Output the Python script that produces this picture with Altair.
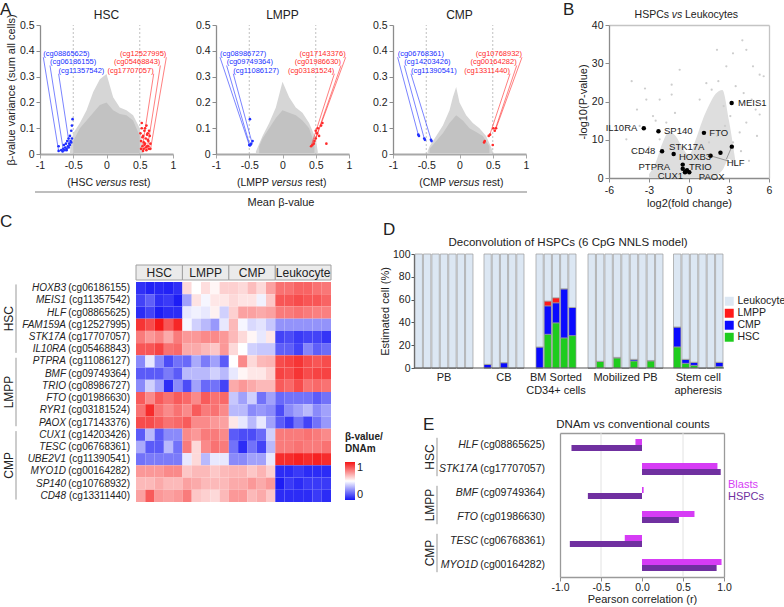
import altair as alt
import pandas as pd

W, H = 784, 607
FONT = "Liberation Sans"
TXT = "#222222"
AX = "#8c8c8c"
BLUE = "#2030ff"
RED = "#ff2a2a"
CLOUD_OUT = "#d6d6d6"
CLOUD_IN = "#c2c2c2"

# ============ Panel A data ============
HSC_OUT_X = [-0.55, -0.5, -0.4, -0.3, -0.2, -0.1, 0.0, 0.1, 0.2, 0.3, 0.4, 0.5, 0.55]
HSC_OUT_TOP = [0.01, 0.08, 0.12, 0.17, 0.24, 0.29, 0.31, 0.22, 0.18, 0.17, 0.15, 0.10, 0.01]
HSC_IN_X = [-0.5, -0.4, -0.3, -0.2, -0.1, 0.0, 0.1, 0.2, 0.3, 0.4, 0.5]
HSC_IN_TOP = [0.05, 0.10, 0.13, 0.16, 0.19, 0.20, 0.17, 0.155, 0.15, 0.13, 0.07]
HSC_BLUE_X = [-0.72, -0.72, -0.68, -0.66, -0.65, -0.64, -0.63, -0.62, -0.61, -0.60, -0.59, -0.58,
              -0.57, -0.56, -0.55, -0.54, -0.53, -0.52, -0.51, -0.60, -0.57, -0.55, -0.53, -0.52]
HSC_BLUE_Y = [0.012, 0.03, 0.015, 0.01, 0.02, 0.035, 0.015, 0.025, 0.04, 0.02, 0.05, 0.03,
              0.06, 0.04, 0.07, 0.05, 0.09, 0.06, 0.135, 0.015, 0.025, 0.035, 0.045, 0.11]
HSC_RED_X = [0.51, 0.52, 0.53, 0.54, 0.55, 0.56, 0.57, 0.58, 0.59, 0.60, 0.61, 0.62, 0.63, 0.64, 0.65,
             0.66, 0.52, 0.54, 0.56, 0.58, 0.60, 0.62, 0.64, 0.66, 0.53, 0.57, 0.61, 0.55, 0.59, 0.63]
HSC_RED_Y = [0.08, 0.05, 0.10, 0.03, 0.07, 0.02, 0.09, 0.04, 0.06, 0.11, 0.03, 0.08, 0.05, 0.02, 0.07,
             0.04, 0.02, 0.065, 0.045, 0.10, 0.015, 0.055, 0.09, 0.02, 0.12, 0.035, 0.075, 0.012, 0.025, 0.03]
HSC_BLUE_LAB = ["(cg08865625)", "(cg06186155)", "(cg11357542)"]
HSC_BLUE_LX = [-0.95, -0.85, -0.72]
HSC_BLUE_PX = [-0.72, -0.65, -0.55]
HSC_BLUE_PY = [0.012, 0.016, 0.022]
HSC_RED_LAB = ["(cg12527995)", "(cg05468843)", "(cg17707057)"]
HSC_RED_LX = [0.90, 0.81, 0.71]
HSC_RED_PX = [0.66, 0.61, 0.54]
HSC_RED_PY = [0.016, 0.016, 0.028]

LMPP_OUT_X = [-0.4, -0.35, -0.3, -0.2, -0.1, 0.0, 0.1, 0.2, 0.3, 0.4, 0.5, 0.53]
LMPP_OUT_TOP = [0.01, 0.04, 0.07, 0.12, 0.18, 0.28, 0.22, 0.18, 0.16, 0.12, 0.06, 0.01]
LMPP_IN_X = [-0.35, -0.3, -0.2, -0.1, 0.0, 0.1, 0.2, 0.3, 0.4, 0.48]
LMPP_IN_TOP = [0.03, 0.06, 0.10, 0.14, 0.17, 0.16, 0.15, 0.13, 0.10, 0.04]
LMPP_BLUE_X = [-0.50, -0.49, -0.48, -0.47, -0.45, -0.49]
LMPP_BLUE_Y = [0.035, 0.033, 0.036, 0.04, 0.05, 0.135]
LMPP_RED_X = [0.43, 0.45, 0.47, 0.48, 0.50, 0.50, 0.52, 0.53, 0.55, 0.58, 0.60, 0.66]
LMPP_RED_Y = [0.03, 0.035, 0.04, 0.05, 0.06, 0.09, 0.08, 0.10, 0.07, 0.11, 0.12, 0.04]
LMPP_BLUE_LAB = ["(cg08986727)", "(cg09749364)", "(cg11086127)"]
LMPP_BLUE_LX = [-0.94, -0.84, -0.74]
LMPP_BLUE_PX = [-0.50, -0.49, -0.46]
LMPP_BLUE_PY = [0.035, 0.033, 0.045]
LMPP_RED_LAB = ["(cg17143376)", "(cg01986630)", "(cg03181524)"]
LMPP_RED_LX = [0.95, 0.88, 0.78]
LMPP_RED_PX = [0.50, 0.47, 0.43]
LMPP_RED_PY = [0.06, 0.04, 0.03]

CMP_OUT_X = [-0.48, -0.45, -0.35, -0.25, -0.15, -0.1, -0.05, 0.0, 0.1, 0.2, 0.3, 0.4, 0.47, 0.5]
CMP_OUT_TOP = [0.01, 0.03, 0.07, 0.11, 0.17, 0.22, 0.26, 0.20, 0.15, 0.12, 0.10, 0.07, 0.03, 0.01]
CMP_IN_X = [-0.45, -0.35, -0.25, -0.15, -0.05, 0.05, 0.15, 0.25, 0.35, 0.45]
CMP_IN_TOP = [0.02, 0.05, 0.08, 0.12, 0.15, 0.13, 0.10, 0.085, 0.07, 0.03]
CMP_BLUE_X = [-0.62, -0.61, -0.53, -0.52, -0.43, -0.42]
CMP_BLUE_Y = [0.075, 0.07, 0.06, 0.055, 0.055, 0.05]
CMP_RED_X = [0.37, 0.38, 0.44, 0.46, 0.50, 0.53, 0.55, 0.51]
CMP_RED_Y = [0.045, 0.05, 0.07, 0.075, 0.035, 0.09, 0.10, 0.10]
CMP_BLUE_LAB = ["(cg06768361)", "(cg14203426)", "(cg11390541)"]
CMP_BLUE_LX = [-0.93, -0.83, -0.73]
CMP_BLUE_PX = [-0.62, -0.53, -0.42]
CMP_BLUE_PY = [0.075, 0.06, 0.05]
CMP_RED_LAB = ["(cg10768932)", "(cg00164282)", "(cg13311440)"]
CMP_RED_LX = [0.94, 0.86, 0.76]
CMP_RED_PX = [0.55, 0.53, 0.45]
CMP_RED_PY = [0.10, 0.09, 0.07]

LAB_TEXT_Y = [0.386, 0.355, 0.323]
LAB_LINE_Y = [0.375, 0.343, 0.311]

# ============ Panel B data ============
B_AREA_X = [-3.0, -2.5, -2.0, -1.5, -1.0, -0.5, 0.0, 0.5, 1.0, 1.5, 2.0, 2.5, 3.0, 3.5]
B_AREA_TOP = [1, 4, 9, 12, 11, 8, 6, 10, 15, 19, 22, 23, 15, 4]
B_AREA_BOT = [0, 0, 0, 0, 0, 0, 0, 0, 0, 0, 0.5, 2, 5, 3]
B_HALO_X = [-4.3, -3.3, -3.2, -3.9, -2.2, -1.3, -1.3, -0.7, -2.7, -3.7, -4.7, -4.2, -2.2, -1.7, -1.05,
            2.2, 2.8, 3.3, 4.0, 4.3, 4.8, 5.3, 5.6, 3.5, 4.1, 4.7, 5.0, 5.3, 4.3, 3.8, 5.1, 3.3,
            2.1, 1.3, 1.7, 0.8, 2.6, 3.1, 2.7, 2.1, 1.5, -3.0, -2.5, 3.9, 4.5]
B_HALO_Y = [25.3, 23.4, 20.5, 17.9, 20.5, 21.8, 24.4, 28.3, 16.2, 13.6, 10.1, 6.7, 10.1, 14.5, 17.0,
            25.3, 29.2, 32.6, 36.0, 33.5, 29.2, 27.0, 26.6, 24.0, 22.2, 20.5, 17.9, 16.6, 14.5, 11.9, 11.0, 9.3,
            33.5, 24.8, 23.1, 20.5, 18.8, 16.2, 13.6, 11.0, 9.3, 8.0, 15.0, 7.0, 4.5]
B_PT_X = [3.2, -3.39, -2.29, 1.12, -2.02, -1.15, 1.62, 2.36, 3.21, -0.47, -0.47, -0.27, -0.15, 0.02, -0.3]
B_PT_Y = [19.6, 13.0, 12.2, 11.8, 7.0, 6.3, 5.8, 6.6, 8.2, 3.5, 2.4, 1.7, 2.0, 1.5, 1.5]
B_LAB = ["MEIS1", "IL10RA", "SP140", "FTO", "CD48", "STK17A", "HOXB3", "HLF", "PTPRA", "TRIO", "CUX1", "PAOX"]
B_LAB_X = [3.45, -3.65, -2.1, 1.3, -2.3, -0.17, 0.45, 3.5, -2.6, 0.85, -1.4, 1.7]
B_LAB_Y = [19.6, 13.0, 12.2, 11.8, 7.0, 8.2, 5.5, 3.9, 2.9, 2.9, 0.45, 0.35]
B_LAB_SIDE = ["left", "right", "left", "left", "right", "center", "center", "center", "center", "center", "center", "center"]
B_LEAD_X1 = [1.62, 3.21]
B_LEAD_Y1 = [5.8, 8.2]
B_LEAD_X2 = [3.0, 2.8]
B_LEAD_Y2 = [4.4, 4.9]

# ============ Panel C data ============
C_GROUPS = ["HSC", "LMPP", "CMP", "Leukocyte"]
C_GROUP_N = [5, 5, 5, 6]
C_GENES = ["HOXB3", "MEIS1", "HLF", "FAM159A", "STK17A", "IL10RA", "PTPRA", "BMF", "TRIO",
           "FTO", "RYR1", "PAOX", "CUX1", "TESC", "UBE2V1", "MYO1D", "SP140", "CD48"]
C_CPGS = ["cg06186155", "cg11357542", "cg08865625", "cg12527995", "cg17707057", "cg05468843",
          "cg11086127", "cg09749364", "cg08986727", "cg01986630", "cg03181524", "cg17143376",
          "cg14203426", "cg06768361", "cg11390541", "cg00164282", "cg10768932", "cg13311440"]
C_VALUES = [
    [0.06, 0.03, 0.04, 0.03, 0.06, 0.58, 0.50, 0.57, 0.52, 0.60, 0.60, 0.58, 0.64, 0.58, 0.70, 0.80, 0.80, 0.83, 0.83, 0.80, 0.79],
    [0.10, 0.16, 0.06, 0.08, 0.02, 0.30, 0.56, 0.48, 0.55, 0.55, 0.58, 0.56, 0.56, 0.47, 0.62, 0.86, 0.86, 0.88, 0.86, 0.86, 0.83],
    [0.05, 0.10, 0.02, 0.05, 0.05, 0.45, 0.47, 0.45, 0.53, 0.40, 0.60, 0.70, 0.70, 0.68, 0.70, 0.78, 0.78, 0.80, 0.78, 0.77, 0.77],
    [0.93, 0.88, 0.99, 0.86, 0.96, 0.48, 0.40, 0.35, 0.28, 0.45, 0.65, 0.48, 0.42, 0.44, 0.38, 0.27, 0.27, 0.27, 0.27, 0.27, 0.27],
    [0.78, 0.72, 0.76, 0.68, 0.78, 0.72, 0.72, 0.75, 0.75, 0.72, 0.65, 0.58, 0.52, 0.45, 0.55, 0.10, 0.12, 0.08, 0.10, 0.10, 0.07],
    [0.86, 0.86, 0.90, 0.80, 0.82, 0.68, 0.68, 0.65, 0.62, 0.72, 0.58, 0.50, 0.40, 0.38, 0.38, 0.16, 0.16, 0.10, 0.24, 0.16, 0.19],
    [0.25, 0.45, 0.25, 0.12, 0.20, 0.18, 0.32, 0.22, 0.30, 0.15, 0.50, 0.75, 0.58, 0.65, 0.66, 0.88, 0.90, 0.93, 0.88, 0.86, 0.88],
    [0.15, 0.15, 0.15, 0.22, 0.15, 0.35, 0.35, 0.35, 0.40, 0.35, 0.45, 0.52, 0.55, 0.55, 0.60, 0.90, 0.88, 0.93, 0.88, 0.90, 0.90],
    [0.25, 0.40, 0.30, 0.05, 0.25, 0.12, 0.30, 0.18, 0.20, 0.10, 0.68, 0.72, 0.68, 0.65, 0.65, 0.85, 0.82, 0.88, 0.80, 0.82, 0.80],
    [0.85, 0.75, 0.85, 0.80, 0.85, 0.82, 0.75, 0.85, 0.80, 0.82, 0.38, 0.30, 0.40, 0.20, 0.30, 0.18, 0.20, 0.20, 0.20, 0.15, 0.20],
    [0.80, 0.95, 0.80, 0.75, 0.80, 0.75, 0.85, 0.78, 0.80, 0.75, 0.35, 0.35, 0.25, 0.28, 0.25, 0.12, 0.25, 0.30, 0.35, 0.25, 0.30],
    [0.88, 0.88, 0.85, 0.80, 0.82, 0.85, 0.75, 0.75, 0.72, 0.70, 0.55, 0.45, 0.35, 0.45, 0.30, 0.15, 0.08, 0.20, 0.10, 0.20, 0.28],
    [0.15, 0.35, 0.15, 0.25, 0.25, 0.75, 0.72, 0.78, 0.78, 0.75, 0.15, 0.12, 0.12, 0.18, 0.40, 0.78, 0.78, 0.78, 0.80, 0.78, 0.75],
    [0.32, 0.15, 0.15, 0.35, 0.20, 0.78, 0.58, 0.75, 0.80, 0.78, 0.20, 0.05, 0.20, 0.10, 0.35, 0.78, 0.78, 0.80, 0.78, 0.78, 0.80],
    [0.20, 0.22, 0.22, 0.22, 0.22, 0.45, 0.58, 0.35, 0.45, 0.45, 0.25, 0.25, 0.30, 0.30, 0.45, 0.95, 0.95, 0.97, 0.95, 0.97, 0.95],
    [0.72, 0.72, 0.72, 0.75, 0.75, 0.62, 0.65, 0.65, 0.62, 0.65, 0.66, 0.66, 0.62, 0.66, 0.60, 0.05, 0.05, 0.08, 0.05, 0.05, 0.05],
    [0.65, 0.65, 0.68, 0.65, 0.65, 0.70, 0.68, 0.65, 0.65, 0.65, 0.68, 0.68, 0.72, 0.68, 0.72, 0.02, 0.08, 0.05, 0.08, 0.08, 0.08],
    [0.70, 0.85, 0.72, 0.70, 0.72, 0.78, 0.62, 0.60, 0.58, 0.65, 0.72, 0.72, 0.65, 0.68, 0.62, 0.05, 0.05, 0.05, 0.05, 0.08, 0.05],
]
C_ROW_GROUPS = ["HSC", "LMPP", "CMP"]

# ============ Panel D data ============
D_GROUPS = ["PB", "CB", "BM Sorted|CD34+ cells", "Mobilized PB", "Stem cell|apheresis"]
D_COUNTS = [7, 5, 5, 9, 6]
D_HSC = [0, 0, 0, 0, 0, 0, 0,
         0, 0, 0, 0, 0,
         0, 29.6, 39.6, 26.4, 28.4,
         0, 5.9, 0, 8.8, 0, 6.2, 0, 6.2, 0,
         18.5, 4.1, 2.3, 0, 0, 1.2]
D_CMP = [0, 0, 0, 0, 0, 0, 0,
         3.2, 0, 4.7, 0, 0,
         18.5, 24.9, 17.6, 43.1, 24.7,
         0, 0, 0, 0.5, 0, 1.4, 0, 0.4, 0,
         17.5, 3.5, 2.7, 0, 0, 3.8]
D_LMPP = [0, 0, 0, 0, 0, 0, 0,
          0, 0, 0, 0, 0,
          0, 4.2, 4.4, 0, 0,
          0, 0, 0, 0, 0, 0, 0, 0, 0,
          0, 0, 0, 0, 0, 0]
D_TYPES = ["Leukocyte", "LMPP", "CMP", "HSC"]

# ============ Panel E data ============
E_GENES = ["HLF", "STK17A", "BMF", "FTO", "TESC", "MYO1D"]
E_CPGS = ["cg08865625", "cg17707057", "cg09749364", "cg01986630", "cg06768361", "cg00164282"]
E_BLASTS = [-0.08, 0.92, 0.02, 0.64, -0.21, 0.97]
E_HSPCS = [-0.86, 0.96, -0.66, 0.45, -0.88, 0.91]
E_ROW_GROUPS = ["HSC", "LMPP", "CMP"]


# ---------------- helpers ----------------
def vtext(txt, x, y, **kw):
    return alt.Chart(pd.DataFrame({"t": [txt]})).mark_text(**kw).encode(
        text="t:N", x=alt.value(x), y=alt.value(y))


def qscale(dom, rng, **kw):
    return alt.Scale(domain=dom, range=rng, nice=False, zero=False, **kw)


layers = []

# ---------------- Panel A ----------------
def a_layers(name, left, out_x, out_top, in_x, in_top, bx, by, rx, ry,
             blab, blx, bpx, bpy, rlab, rlx, rpx, rpy, first=False):
    xr = [left, left + 133]
    yr = [154, 25]

    def X(f, axis=None):
        return alt.X(f, type="quantitative", scale=qscale([-1, 1], xr), axis=axis)

    def Y(f, axis=None):
        return alt.Y(f, type="quantitative", scale=qscale([0, 0.5], yr), axis=axis)

    xax = alt.Axis(orient="bottom", offset=154 - H, values=[-1, -0.5, 0, 0.5, 1], labelExpr="'' + datum.value",
                   title=None, tickSize=4, labelPadding=2, domainWidth=1.8, domainColor="#a8a8a8",
                   tickColor="#a8a8a8")
    ykw = dict(orient="left", offset=-left, values=[0, 0.1, 0.2, 0.3, 0.4, 0.5], labelExpr="'' + datum.value",
               tickSize=4, labelPadding=2)
    if first:
        yax = alt.Axis(title="β-value variance (sum all cells)", titlePadding=3, **ykw)
    else:
        yax = alt.Axis(title=None, **ykw)
    L = [
        alt.Chart(pd.DataFrame({"g": [-0.5, 0.5], "lo": [0, 0], "hi": [0.5, 0.5]})).mark_rule(
            color="#b0b0b0", strokeDash=[2, 2], strokeWidth=0.8).encode(x=X("g"), y=Y("lo"), y2="hi"),
        alt.Chart(pd.DataFrame({"x": out_x, "top": out_top, "bot": [0.003] * len(out_x)})).mark_area(
            color=CLOUD_OUT).encode(x=X("x", xax), y=Y("top", yax), y2="bot"),
        alt.Chart(pd.DataFrame({"x": in_x, "top": in_top, "bot": [0.003] * len(in_x)})).mark_area(
            color=CLOUD_IN).encode(x=X("x"), y=Y("top"), y2="bot"),
        alt.Chart(pd.DataFrame({"x": bx, "y": by})).mark_circle(size=7, color=BLUE, opacity=1).encode(
            x=X("x"), y=Y("y")),
        alt.Chart(pd.DataFrame({"x": rx, "y": ry})).mark_circle(size=7, color=RED, opacity=1).encode(
            x=X("x"), y=Y("y")),
    ]
    bdf = pd.DataFrame({"t": blab, "x1": blx, "ty": LAB_TEXT_Y, "y1": LAB_LINE_Y, "x2": bpx, "y2": bpy})
    rdf = pd.DataFrame({"t": rlab, "x1": rlx, "ty": LAB_TEXT_Y, "y1": LAB_LINE_Y, "x2": rpx, "y2": rpy})
    L += [
        alt.Chart(bdf).mark_rule(color=BLUE, strokeWidth=0.6).encode(x=X("x1"), y=Y("y1"), x2="x2", y2="y2"),
        alt.Chart(rdf).mark_rule(color=RED, strokeWidth=0.6).encode(x=X("x1"), y=Y("y1"), x2="x2", y2="y2"),
        alt.Chart(bdf).mark_text(color=BLUE, fontSize=7.5, align="left", baseline="middle").encode(
            x=X("x1"), y=Y("ty"), text="t:N"),
        alt.Chart(rdf).mark_text(color=RED, fontSize=7.5, align="right", baseline="middle").encode(
            x=X("x1"), y=Y("ty"), text="t:N"),
        vtext(name, left + 66.5, 15, align="center", baseline="middle", fontSize=12),
        vtext("(" + name, left + 53, 183, align="right", baseline="middle", fontSize=10.5),
        vtext("versus", left + 71, 183, align="center", baseline="middle", fontSize=10.5, fontStyle="italic"),
        vtext("rest)", left + 89.5, 183, align="left", baseline="middle", fontSize=10.5),
    ]
    return L


layers += a_layers("HSC", 40, HSC_OUT_X, HSC_OUT_TOP, HSC_IN_X, HSC_IN_TOP, HSC_BLUE_X, HSC_BLUE_Y,
                   HSC_RED_X, HSC_RED_Y, HSC_BLUE_LAB, HSC_BLUE_LX, HSC_BLUE_PX, HSC_BLUE_PY,
                   HSC_RED_LAB, HSC_RED_LX, HSC_RED_PX, HSC_RED_PY, first=True)
layers += a_layers("LMPP", 216, LMPP_OUT_X, LMPP_OUT_TOP, LMPP_IN_X, LMPP_IN_TOP, LMPP_BLUE_X, LMPP_BLUE_Y,
                   LMPP_RED_X, LMPP_RED_Y, LMPP_BLUE_LAB, LMPP_BLUE_LX, LMPP_BLUE_PX, LMPP_BLUE_PY,
                   LMPP_RED_LAB, LMPP_RED_LX, LMPP_RED_PX, LMPP_RED_PY)
layers += a_layers("CMP", 393, CMP_OUT_X, CMP_OUT_TOP, CMP_IN_X, CMP_IN_TOP, CMP_BLUE_X, CMP_BLUE_Y,
                   CMP_RED_X, CMP_RED_Y, CMP_BLUE_LAB, CMP_BLUE_LX, CMP_BLUE_PX, CMP_BLUE_PY,
                   CMP_RED_LAB, CMP_RED_LX, CMP_RED_PX, CMP_RED_PY)
layers += [
    vtext("A", 0, 10, align="left", baseline="middle", fontSize=17),
    alt.Chart(pd.DataFrame({"t": [1]})).mark_rule(color="#a8a8a8", strokeWidth=1.5).encode(
        x=alt.value(35), x2=alt.value(527), y=alt.value(192)),
    vtext("Mean β-value", 281, 203, align="center", baseline="middle", fontSize=11),
]

# ---------------- Panel B ----------------
BXR, BYR = [609, 769], [178, 25]


def BX(f, axis=None):
    return alt.X(f, type="quantitative", scale=qscale([-6, 6], BXR), axis=axis)


def BY(f, axis=None):
    return alt.Y(f, type="quantitative", scale=qscale([0, 40], BYR), axis=axis)


bxax = alt.Axis(orient="bottom", offset=178 - H, values=[-6, -3, 0, 3, 6], labelExpr="'' + datum.value",
                tickSize=4, labelPadding=3, title="log2(fold change)", titlePadding=2)
byax = alt.Axis(orient="left", offset=-609, values=[0, 10, 20, 30, 40], tickSize=4, labelPadding=2,
                title="-log10(P-value)", titlePadding=3)
btop = alt.Axis(orient="top", offset=-25, labels=False, ticks=False, title=None, domainColor="#c4c4c4")
bright = alt.Axis(orient="right", offset=769 - W, labels=False, ticks=False, title=None, domainColor="#c4c4c4")
b_lab_df = pd.DataFrame({"t": B_LAB, "x": B_LAB_X, "y": B_LAB_Y, "side": B_LAB_SIDE})
layers += [
    alt.Chart(pd.DataFrame({"x": B_AREA_X, "top": B_AREA_TOP, "bot": B_AREA_BOT})).mark_area(
        color="#dedede", interpolate="monotone").encode(x=BX("x", bxax), y=BY("top", byax), y2="bot"),
    alt.Chart(pd.DataFrame({"x": B_HALO_X, "y": B_HALO_Y})).mark_circle(
        size=5, color="#cdcdcd", opacity=1).encode(x=BX("x", btop), y=BY("y", bright)),
    alt.Chart(pd.DataFrame({"x1": B_LEAD_X1, "y1": B_LEAD_Y1, "x2": B_LEAD_X2, "y2": B_LEAD_Y2})).mark_rule(
        color="#777777", strokeWidth=0.7).encode(x=BX("x1"), y=BY("y1"), x2="x2", y2="y2"),
    alt.Chart(pd.DataFrame({"x": B_PT_X, "y": B_PT_Y})).mark_circle(
        size=20, color="#000000", opacity=1).encode(x=BX("x"), y=BY("y")),
]
for s in ["left", "right", "center"]:
    layers.append(alt.Chart(b_lab_df).transform_filter(alt.datum.side == s).mark_text(
        align=s, baseline="middle", fontSize=9.5, dx=(3 if s == "left" else (-3 if s == "right" else 0))).encode(
        x=BX("x"), y=BY("y"), text="t:N"))
layers += [
    vtext("HSPCs", 669, 15, align="right", baseline="middle", fontSize=10.5),
    vtext("vs", 677, 15, align="center", baseline="middle", fontSize=10.5, fontStyle="italic"),
    vtext("Leukocytes", 685, 15, align="left", baseline="middle", fontSize=10.5),
    vtext("B", 563, 10, align="left", baseline="middle", fontSize=17),
]

# ---------------- Panel C ----------------
CXR, CYR = [136, 331], [282, 502]
rows = []
for r, vals in enumerate(C_VALUES):
    for c, v in enumerate(vals):
        rows.append({"c0": c, "c1": c + 1, "r0": r, "r1": r + 1, "v": v})
c_df = pd.DataFrame(rows)
starts, acc = [], 0
for n in C_GROUP_N:
    starts.append(acc)
    acc += n
c_head = pd.DataFrame({"g": C_GROUPS, "s": starts, "e": [s + n for s, n in zip(starts, C_GROUP_N)]})
c_head["m"] = (c_head["s"] + c_head["e"]) / 2
c_lab = pd.DataFrame({"gene": C_GENES, "cg": ["(" + c + ")" for c in C_CPGS]})
c_lab["rm"] = [i + 0.5 for i in range(len(C_GENES))]
c_grp = pd.DataFrame({"g": C_ROW_GROUPS})
c_grp["gm"] = [3 + 6 * i for i in range(3)]
c_grp["g0"] = [0.2 + 6 * i for i in range(3)]
c_grp["g1"] = [5.8 + 6 * i for i in range(3)]


def CX(f):
    return alt.X(f, type="quantitative", scale=qscale([0, 21], CXR), axis=None)


def CY(f):
    return alt.Y(f, type="quantitative", scale=qscale([0, 18], CYR), axis=None)


layers += [
    alt.Chart(c_df).mark_rect(strokeWidth=0).encode(
        x=CX("c0"), x2="c1", y=CY("r0"), y2="r1",
        color=alt.Color("v:Q", scale=alt.Scale(domain=[0, 0.5, 1], range=["#1414f5", "#ffffff", "#f51414"],
                                               interpolate="rgb"),
                        legend=alt.Legend(title=["β-value/", "DNAm"], titleFontWeight="bold", titleFontSize=10,
                                          orient="none", legendX=345, legendY=432, gradientLength=38,
                                          gradientThickness=10, values=[0, 1], labelExpr="'' + datum.value",
                                          labelFontSize=11, direction="vertical", titlePadding=8, padding=0))),
    alt.Chart(c_head).mark_rect(fill="#ebebeb", stroke="#a0a0a0", strokeWidth=1).encode(
        x=CX("s"), x2="e", y=alt.value(265), y2=alt.value(280)),
    alt.Chart(c_head).mark_text(fontSize=12, baseline="middle").encode(
        x=CX("m"), y=alt.value(273), text="g:N"),
    alt.Chart(c_lab).mark_text(fontSize=10, align="right", baseline="middle").encode(
        x=alt.value(130), y=CY("rm"), text="cg:N"),
    alt.Chart(c_lab).mark_text(fontSize=10, align="right", baseline="middle", fontStyle="italic").encode(
        x=alt.value(66), y=CY("rm"), text="gene:N"),
    alt.Chart(c_grp).mark_text(fontSize=12, angle=270, align="center", baseline="middle").encode(
        x=alt.value(9), y=CY("gm"), text="g:N"),
    alt.Chart(c_grp).mark_rule(color="#999999", strokeWidth=1).encode(
        x=alt.value(16), y=CY("g0"), y2="g1"),
    vtext("C", 0, 222, align="left", baseline="middle", fontSize=17),
]

# ---------------- Panel D ----------------
DYR = [368, 254]
D_XR = [[414.5, 473.5], [483.5, 524.5], [535.5, 576.5], [587.5, 663.5], [673, 723.5]]
d_legend = alt.Legend(title=None, orient="none", legendX=724, legendY=296, symbolType="square",
                      symbolSize=80, labelFontSize=10.5, labelOffset=3, symbolStrokeWidth=0,
                      rowPadding=1, padding=0)
d_yax = alt.Axis(orient="left", offset=-414, values=[0, 20, 40, 60, 80, 100], title="Estimated cell (%)",
                 tickSize=3, labelPadding=1, titlePadding=2, domainColor="#555555", tickColor="#555555")
idx = 0
for gi, (g, n) in enumerate(zip(D_GROUPS, D_COUNTS)):
    recs, sids = [], []
    for k in range(n):
        h, cm, lm = D_HSC[idx], D_CMP[idx], D_LMPP[idx]
        sid = "s%d_%d" % (gi, k)
        sids.append(sid)
        for t, v, o in [("HSC", h, 0), ("CMP", cm, 1), ("LMPP", lm, 2), ("Leukocyte", 100 - h - cm - lm, 3)]:
            recs.append({"sid": sid, "type": t, "val": v, "ord": o})
        idx += 1
    layers.append(alt.Chart(pd.DataFrame(recs)).mark_bar(stroke="#9a9a9a", strokeWidth=0.7).encode(
        x=alt.X("sid:N", scale=alt.Scale(domain=sids, range=D_XR[gi], paddingInner=0.12, paddingOuter=0.06),
                axis=None),
        y=alt.Y("val:Q", stack="zero", scale=qscale([0, 100], DYR), axis=(d_yax if gi == 0 else None)),
        fill=alt.Fill("type:N", scale=alt.Scale(domain=D_TYPES, range=["#dce7f3", "#ff1a1a", "#0a0aff", "#1ecc1e"]),
                      legend=d_legend),
        order=alt.Order("ord:Q")))
    layers.append(vtext(g, (D_XR[gi][0] + D_XR[gi][1]) / 2, 372, align="center", baseline="top",
                        fontSize=11, lineBreak="|", lineHeight=13))
layers += [
    alt.Chart(pd.DataFrame({"t": [1]})).mark_rule(color="#555555", strokeWidth=1.2).encode(
        x=alt.value(414), x2=alt.value(724), y=alt.value(368)),
    vtext("Deconvolution of HSPCs (6 CpG NNLS model)", 568, 243, align="center", baseline="middle",
          fontSize=11.5),
    vtext("D", 383, 230, align="left", baseline="middle", fontSize=17),
]

# ---------------- Panel E ----------------
EXR, EYR = [560, 724], [433, 577]
e_rows = []
for g, b, h in zip(E_GENES, E_BLASTS, E_HSPCS):
    e_rows.append({"gene": g, "series": "Blasts", "r": b, "z": 0})
    e_rows.append({"gene": g, "series": "HSPCs", "r": h, "z": 0})
e_df = pd.DataFrame(e_rows)
e_lab = pd.DataFrame({"gene": E_GENES, "cg": ["(" + c + ")" for c in E_CPGS]})
e_grp = pd.DataFrame({"g": E_ROW_GROUPS})
e_grp["gm"] = [1 + 2 * i for i in range(3)]
e_grp["g0"] = [0.2 + 2 * i for i in range(3)]
e_grp["g1"] = [1.8 + 2 * i for i in range(3)]


def EX(f, axis=None):
    return alt.X(f, type="quantitative", scale=qscale([-1, 1], EXR), axis=axis)


def EYB(axis=None):
    return alt.Y("gene:N", scale=alt.Scale(domain=E_GENES, range=EYR, paddingInner=0.5, paddingOuter=0.25),
                 axis=axis)


exax = alt.Axis(orient="bottom", offset=577 - H, values=[-1, -0.5, 0, 0.5, 1], tickSize=4, labelPadding=1,
                labelExpr="(datum.value < 0 ? '-' : '') + format(abs(datum.value), '.1f')",
                title="Pearson correlation (r)", titlePadding=1, domainColor="#9a9a9a")
etop = alt.Axis(orient="top", offset=-433, labels=False, ticks=False, title=None, domainColor="#9a9a9a")
eleft = alt.Axis(orient="left", offset=-560, labels=False, ticks=False, title=None, domainColor="#9a9a9a")
eright = alt.Axis(orient="right", offset=724 - W, labels=False, ticks=False, title=None, domainColor="#9a9a9a")
layers += [
    alt.Chart(pd.DataFrame({"g": [-0.5, 0.5]})).mark_rule(color="#e2e2e2", strokeWidth=1).encode(
        x=EX("g", etop), y=alt.value(433), y2=alt.value(577)),
    alt.Chart(e_df).mark_bar().encode(
        y=EYB(),
        yOffset=alt.YOffset("series:N", scale=alt.Scale(domain=["Blasts", "HSPCs"])),
        x=EX("r", exax), x2="z",
        color=alt.Color("series:N", scale=alt.Scale(domain=["Blasts", "HSPCs"], range=["#d63cf5", "#7030a0"]),
                        legend=None)),
    alt.Chart(e_lab).mark_text(fontSize=10.5, align="right", baseline="middle").encode(
        x=alt.value(545), y=EYB(eright), text="cg:N"),
    alt.Chart(e_lab).mark_text(fontSize=10.5, align="right", baseline="middle", fontStyle="italic").encode(
        x=alt.value(478), y=EYB(), text="gene:N"),
    alt.Chart(e_grp).mark_text(fontSize=12, angle=270, align="center", baseline="middle").encode(
        x=alt.value(430), y=alt.Y("gm:Q", scale=qscale([0, 6], EYR), axis=eleft), text="g:N"),
    alt.Chart(e_grp).mark_rule(color="#999999", strokeWidth=1).encode(
        x=alt.value(437), y=alt.Y("g0:Q", scale=qscale([0, 6], EYR), axis=None), y2="g1"),
    vtext("Blasts", 728, 485, align="left", baseline="middle", fontSize=11, color="#d63cf5"),
    vtext("HSPCs", 728, 497, align="left", baseline="middle", fontSize=11, color="#7030a0"),
    vtext("DNAm vs conventional counts", 633, 425, align="center", baseline="middle", fontSize=11.5),
    vtext("E", 423, 425, align="left", baseline="middle", fontSize=17),
]

chart = alt.layer(*layers).resolve_scale(
    x="independent", y="independent", color="independent").properties(
    width=W, height=H, autosize=alt.AutoSizeParams(type="none"), padding=0).configure(
    font=FONT).configure_view(stroke=None).configure_axis(
    labelFont=FONT, titleFont=FONT, labelFontSize=10.5, titleFontSize=11, titleFontWeight="normal",
    labelColor=TXT, titleColor=TXT, domainColor=AX, tickColor=AX, domainWidth=1.3, grid=False,
    labelFlush=False, labelOverlap=False).configure_text(font=FONT, color=TXT).configure_legend(
    labelFont=FONT, titleFont=FONT, labelColor=TXT, titleColor=TXT)

chart.save("out.html", embed_options={"renderer": "svg", "actions": False})
